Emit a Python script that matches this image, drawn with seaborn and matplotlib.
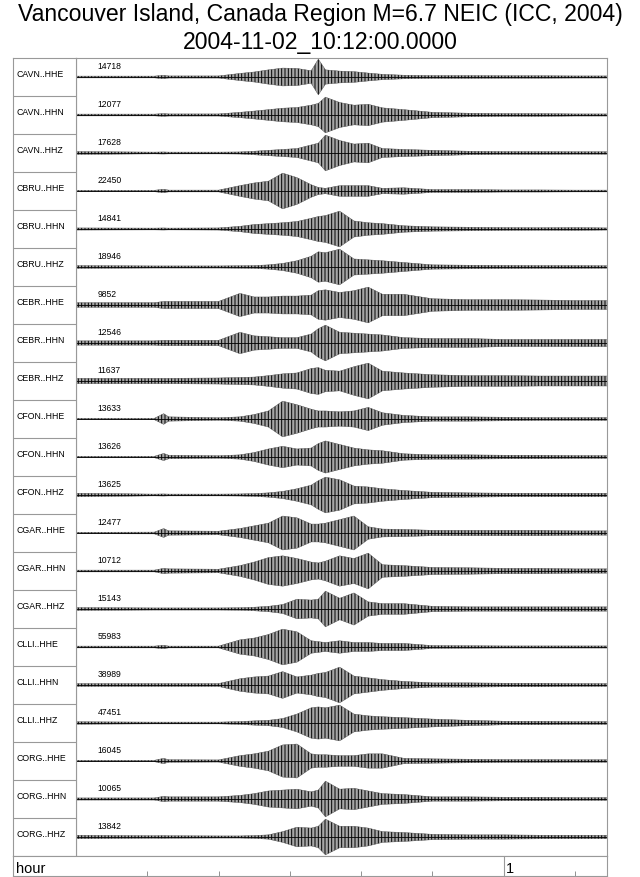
import numpy as np
import pandas as pd
import matplotlib
matplotlib.use("Agg")
import matplotlib.pyplot as plt
import seaborn as sns

# chart text
title_1 = "Vancouver Island, Canada Region M=6.7 NEIC (ICC, 2004)"
title_2 = "2004-11-02_10:12:00.0000"

# station channels, top to bottom, and the max counts printed over each trace
channels = ["CAVN..HHE", "CAVN..HHN", "CAVN..HHZ", "CBRU..HHE", "CBRU..HHN", "CBRU..HHZ",
            "CEBR..HHE", "CEBR..HHN", "CEBR..HHZ", "CFON..HHE", "CFON..HHN", "CFON..HHZ",
            "CGAR..HHE", "CGAR..HHN", "CGAR..HHZ", "CLLI..HHE", "CLLI..HHN", "CLLI..HHZ",
            "CORG..HHE", "CORG..HHN", "CORG..HHZ"]
max_counts = [14718, 12077, 17628, 22450, 14841, 18946, 9852, 12546, 11637, 13633, 13626,
              13625, 12477, 10712, 15143, 55983, 38989, 47451, 16045, 10065, 13842]

minutes = [0, 11, 12.3, 13, 20, 23, 25, 27, 29, 31, 33, 34, 35, 37, 39, 41, 43, 46, 50, 55, 60, 65, 70, 74.5]

# envelope of each trace, as a fraction of its max counts
env = {
    "CAVN..HHE": [.05, .05, .10, .06, .06, .20, .28, .40, .50, .48, .35, 1.0, .40, .33, .30, .22, .15, .10, .08, .08, .07, .07, .06, .06],
    "CAVN..HHN": [.05, .05, .08, .06, .06, .15, .22, .30, .38, .42, .55, .65, 1.0, .70, .55, .60, .40, .30, .15, .10, .08, .08, .06, .06],
    "CAVN..HHZ": [.08, .05, .06, .05, .05, .06, .10, .15, .20, .25, .45, .55, 1.0, .70, .50, .55, .25, .20, .15, .10, .08, .08, .07, .07],
    "CBRU..HHE": [.04, .04, .10, .05, .05, .30, .45, .55, 1.0, .75, .35, .20, .15, .30, .30, .30, .15, .18, .08, .08, .06, .06, .05, .05],
    "CBRU..HHN": [.06, .05, .06, .05, .06, .15, .25, .30, .35, .42, .60, .70, .75, 1.0, .45, .35, .30, .18, .12, .10, .08, .07, .08, .06],
    "CBRU..HHZ": [.08, .06, .06, .06, .06, .07, .08, .12, .20, .35, .60, .85, .80, 1.0, .45, .40, .35, .25, .12, .10, .09, .08, .08, .07],
    "CEBR..HHE": [.13, .13, .20, .20, .20, .65, .45, .45, .50, .50, .55, .80, .85, .70, .80, 1.0, .60, .60, .35, .30, .30, .28, .25, .25],
    "CEBR..HHN": [.12, .12, .15, .15, .15, .60, .40, .35, .30, .30, .50, .80, 1.0, .60, .55, .50, .45, .30, .25, .25, .20, .20, .20, .20],
    "CEBR..HHZ": [.15, .15, .15, .15, .17, .20, .22, .30, .40, .45, .70, .75, .60, .55, .80, 1.0, .55, .45, .35, .30, .30, .28, .28, .28],
    "CFON..HHE": [.04, .04, .30, .12, .07, .12, .25, .45, 1.0, .80, .55, .45, .45, .40, .45, .65, .35, .20, .12, .12, .10, .08, .08, .08],
    "CFON..HHN": [.04, .04, .20, .10, .07, .12, .25, .45, .60, .45, .50, .75, .90, .70, .50, .40, .35, .18, .12, .12, .10, .10, .08, .08],
    "CFON..HHZ": [.10, .05, .06, .05, .05, .06, .08, .12, .20, .35, .55, .80, 1.0, .85, .50, .45, .35, .25, .15, .12, .10, .10, .10, .10],
    "CGAR..HHE": [.04, .05, .25, .12, .10, .25, .40, .55, .95, .85, .50, .50, .55, .75, .95, .35, .22, .20, .15, .15, .15, .15, .12, .12],
    "CGAR..HHN": [.05, .05, .15, .12, .10, .30, .50, .75, .85, .70, .50, .45, .55, .85, .70, 1.0, .35, .30, .20, .18, .15, .15, .12, .12],
    "CGAR..HHZ": [.08, .06, .06, .06, .06, .07, .10, .15, .25, .55, .50, .55, 1.0, .60, .90, .40, .30, .30, .15, .12, .12, .12, .12, .12],
    "CLLI..HHE": [.05, .05, .10, .05, .05, .40, .50, .70, 1.0, .85, .35, .30, .25, .35, .25, .25, .20, .20, .08, .07, .06, .06, .06, .06],
    "CLLI..HHN": [.08, .08, .08, .08, .08, .35, .45, .50, .75, .45, .55, .65, .70, 1.0, .50, .40, .30, .20, .12, .12, .10, .10, .08, .08],
    "CLLI..HHZ": [.07, .05, .05, .05, .05, .08, .12, .15, .25, .50, .85, .90, .85, 1.0, .50, .40, .35, .30, .22, .15, .10, .10, .08, .08],
    "CORG..HHE": [.04, .04, .15, .07, .06, .30, .40, .55, .90, .95, .40, .35, .35, .30, .30, .40, .40, .15, .12, .10, .08, .08, .07, .07],
    "CORG..HHN": [.06, .06, .15, .12, .12, .20, .30, .45, .50, .55, .40, .50, 1.0, .55, .60, .45, .30, .25, .12, .12, .10, .10, .08, .08],
    "CORG..HHZ": [.10, .07, .08, .07, .06, .06, .08, .12, .30, .55, .50, .60, 1.0, .60, .60, .50, .30, .25, .15, .12, .12, .10, .10, .10],
}

# hour axis: small ticks every 10 minutes, a labelled mark at 1 hour
tick_minutes = [10, 20, 30, 40, 50, 70]
hour_marks = [60]
hour_labels = ["1"]

rows = []
for i, ch in enumerate(channels):
    for m, a in zip(minutes, env[ch]):
        rows.append({"trace": ch, "row": i, "minute": m, "amp": a})
df = pd.DataFrame(rows)
half = 0.47  # full-scale half height of a trace, in row units
df["upper"] = df["row"] - df["amp"] * half
df["lower"] = df["row"] + df["amp"] * half

sns.set_theme(style="white")
plt.rcParams["font.family"] = ["Liberation Sans", "DejaVu Sans"]
plt.rcParams["hatch.linewidth"] = 0.7
plt.rcParams["hatch.color"] = "black"

W, H = 640, 878
fig = plt.figure(figsize=(W / 100, H / 100), dpi=100)

def box(x0, y0, x1, y1):
    return [x0 / W, 1 - y1 / H, (x1 - x0) / W, (y1 - y0) / H]

n = len(channels)
ax = fig.add_axes(box(76, 59, 607, 857))
ax_lab = fig.add_axes(box(13, 59, 76, 857))
ax_hr = fig.add_axes(box(13, 857, 607, 877))

# traces: envelope with vertical hatching standing in for the wiggles, baseline on top
for ch, g in df.groupby("trace", sort=False):
    ax.fill_between(g["minute"], g["upper"], g["lower"], facecolor="0.65",
                    edgecolor="black", hatch="|||||", lw=0, zorder=1)
sns.lineplot(data=df, x="minute", y="upper", units="trace", estimator=None,
             color="0.3", lw=0.3, ax=ax, legend=False)
sns.lineplot(data=df, x="minute", y="lower", units="trace", estimator=None,
             color="0.3", lw=0.3, ax=ax, legend=False)
sns.lineplot(data=df, x="minute", y="row", units="trace", estimator=None,
             color="black", lw=0.6, ax=ax, legend=False, zorder=3)
for i, ch in enumerate(channels):
    ax.text(3.0, i - 0.31, str(max_counts[i]), fontsize=6.2, va="center", ha="left", color="black")
ax.set_xlim(0, 74.5)
ax.set_ylim(n - 0.5, -0.5)
ax.set_xticks([])
ax.set_yticks([])
ax.set_xlabel("")
ax.set_ylabel("")

# channel name column
ax_lab.set_xlim(0, 1)
ax_lab.set_ylim(n, 0)
for i, ch in enumerate(channels):
    ax_lab.text(0.05, i + 0.42, ch, fontsize=6.3, va="center", ha="left", color="black")
ax_lab.hlines(np.arange(1, n), 0, 1, color="0.6", lw=0.8)
ax_lab.set_xticks([])
ax_lab.set_yticks([])

for a in (ax, ax_lab, ax_hr):
    for s in a.spines.values():
        s.set_color("0.6")
        s.set_linewidth(0.8)

# hour row, zero lined up with the trace start
left_pad = 63 / 531 * 74.5
ax_hr.set_xlim(-left_pad, 74.5)
ax_hr.set_ylim(0, 1)
ax_hr.set_xticks(tick_minutes)
ax_hr.set_xticklabels([])
ax_hr.tick_params(axis="x", direction="in", length=3.5, width=0.6, color="0.5", bottom=True)
ax_hr.set_yticks([])
for m, lab in zip(hour_marks, hour_labels):
    ax_hr.axvline(m, color="0.6", lw=0.8)
    ax_hr.text(m + 0.3, 0.42, lab, fontsize=10.5, va="center", ha="left", color="black")
ax_hr.text(-left_pad + 0.4, 0.42, "hour", fontsize=10.5, va="center", ha="left", color="black")

fig.text(0.5, 1 - 15 / H, title_1, fontsize=16.6, ha="center", va="center", color="black")
fig.text(0.5, 1 - 42 / H, title_2, fontsize=16.6, ha="center", va="center", color="black")

fig.savefig("out.png", dpi=100)
